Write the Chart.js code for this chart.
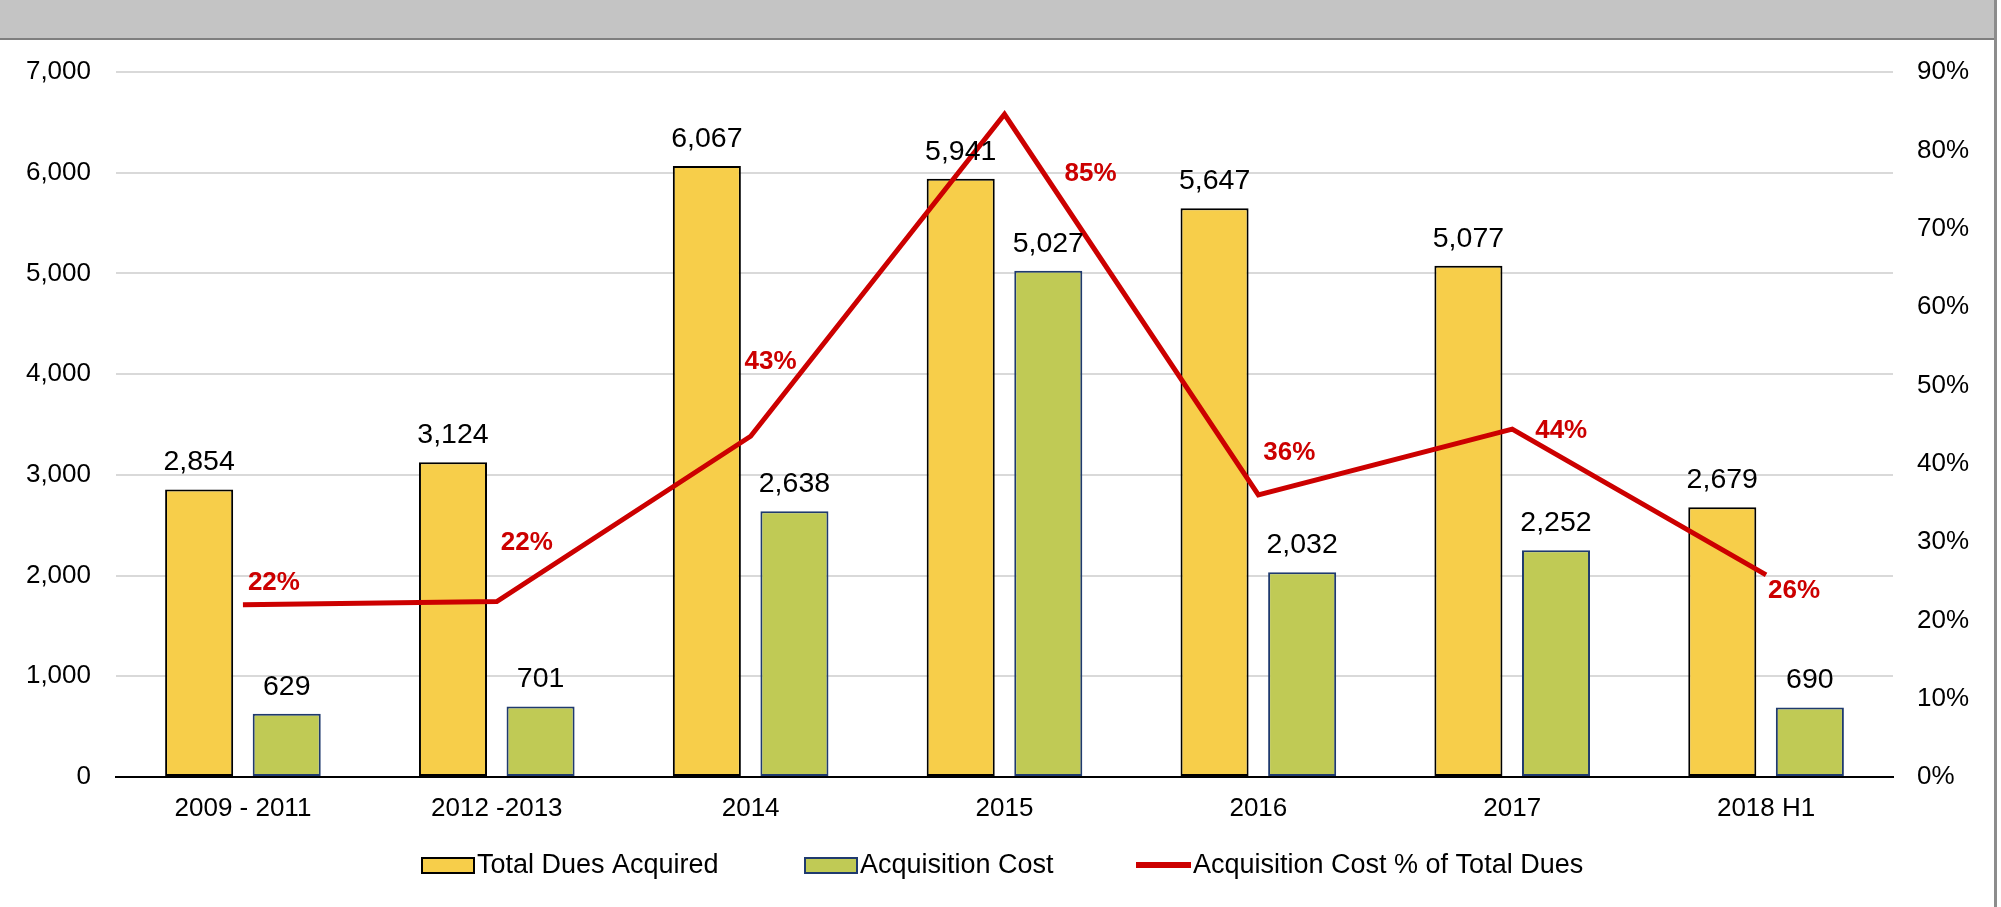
<!DOCTYPE html>
<html>
<head>
<meta charset="utf-8">
<script src="https://cdn.jsdelivr.net/npm/chart.js@4.4.1/dist/chart.umd.min.js"></script>
<style>
  html, body { margin: 0; padding: 0; background: #fff; }
  #page { width: 1994px; height: 907px; border-right: 3px solid #8c8c8c; position: relative; }
  #band { height: 38px; background: #c4c4c4; border-bottom: 2px solid #7f7f7f; }
  canvas { display: block; }
</style>
</head>
<body>
<div id="page">
  <div id="band"></div>
  <canvas id="myChart" width="1994" height="867"></canvas>
</div>
<script>
// values
const categories = ["2009 - 2011", "2012 -2013", "2014", "2015", "2016", "2017", "2018 H1"];
const totalDues = [2854, 3124, 6067, 5941, 5647, 5077, 2679];
const acqCost = [629, 701, 2638, 5027, 2032, 2252, 690];
const costPct = [0.220, 0.224, 0.435, 0.846, 0.360, 0.444, 0.258];
const pctLabels = ["22%", "22%", "43%", "85%", "36%", "44%", "26%"];
const leftTicks = [0, 7000, 1000];
const rightTicks = [0, 0.9, 0.1];

// where excel put the % labels, relative to the point
const pctLabelOffsets = [[31, -22], [30, -59], [20, -74], [86, 60], [31, -42], [49, 2], [28, 16]];

Chart.defaults.font.family = "'Liberation Sans', Arial, sans-serif";
Chart.defaults.font.size = 26;
Chart.defaults.color = "#000";

const fmt = v => v.toLocaleString("en-US");

const labelPlugin = {
  id: "labels",
  afterDatasetsDraw(chart) {
    const ctx = chart.ctx;
    ctx.save();
    ctx.font = "28.5px 'Liberation Sans', Arial, sans-serif";
    ctx.fillStyle = "#000";
    ctx.textAlign = "center";
    ctx.textBaseline = "middle";
    [0, 1].forEach(d => {
      chart.getDatasetMeta(d).data.forEach((el, i) => {
        ctx.fillText(fmt(chart.data.datasets[d].data[i]), el.x, el.y - 27);
      });
    });
    ctx.font = "bold 26px 'Liberation Sans', Arial, sans-serif";
    ctx.fillStyle = "#cc0000";
    chart.getDatasetMeta(2).data.forEach((el, i) => {
      const o = pctLabelOffsets[i];
      ctx.fillText(pctLabels[i], el.x + o[0], el.y + o[1]);
    });
    ctx.restore();
  }
};

const legendPlugin = {
  id: "myLegend",
  afterDraw(chart) {
    const ctx = chart.ctx;
    const y = 825;
    ctx.save();
    ctx.font = "27px 'Liberation Sans', Arial, sans-serif";
    ctx.textBaseline = "middle";
    ctx.textAlign = "left";
    const xs = [422, 805, 1136];
    chart.data.datasets.forEach((ds, i) => {
      const x = xs[i];
      if (ds.type === "line") {
        ctx.strokeStyle = ds.borderColor;
        ctx.lineWidth = 6;
        ctx.beginPath();
        ctx.moveTo(x, y);
        ctx.lineTo(x + 55, y);
        ctx.stroke();
      } else {
        ctx.fillStyle = ds.backgroundColor;
        ctx.fillRect(x, y - 7, 52, 15);
        ctx.strokeStyle = ds.borderColor;
        ctx.lineWidth = 2;
        ctx.strokeRect(x, y - 7, 52, 15);
      }
      ctx.fillStyle = "#000";
      ctx.fillText(ds.label, x + (ds.type === "line" ? 57 : 55), y + 1);
    });
    ctx.restore();
  }
};

// keep the plot box where excel had it
const noPadY = s => { s.paddingTop = 0; s.paddingBottom = 0; };

new Chart(document.getElementById("myChart"), {
  type: "bar",
  data: {
    labels: categories,
    datasets: [
      {
        label: "Total Dues Acquired",
        data: totalDues,
        backgroundColor: "#f7ce4a",
        borderColor: "#000",
        borderWidth: 2,
        borderSkipped: false,
        barPercentage: 0.777,
        categoryPercentage: 0.69,
        yAxisID: "y",
        order: 2
      },
      {
        label: "Acquisition Cost",
        data: acqCost,
        backgroundColor: "#c0ca55",
        borderColor: "#1f3a6e",
        borderWidth: 2,
        borderSkipped: false,
        barPercentage: 0.777,
        categoryPercentage: 0.69,
        yAxisID: "y",
        order: 2
      },
      {
        type: "line",
        label: "Acquisition Cost % of Total Dues",
        data: costPct,
        borderColor: "#cc0000",
        backgroundColor: "#cc0000",
        borderWidth: 5,
        pointRadius: 0,
        tension: 0,
        yAxisID: "y2",
        order: 1
      }
    ]
  },
  options: {
    responsive: false,
    animation: false,
    devicePixelRatio: 1,
    layout: { padding: { top: 32, left: 0, right: 0, bottom: 0 } },
    plugins: {
      legend: { display: false },
      tooltip: { enabled: false }
    },
    scales: {
      x: {
        grid: { display: false, drawTicks: false },
        border: { display: true, color: "#000", width: 2 },
        ticks: { padding: 16, color: "#000" },
        afterFit: s => { s.height = 130; s.paddingLeft = 0; s.paddingRight = 0; }
      },
      y: {
        position: "left",
        min: leftTicks[0],
        max: leftTicks[1],
        ticks: { stepSize: leftTicks[2], padding: 25, callback: v => fmt(v) },
        grid: { color: "#d9d9d9", lineWidth: 2, drawTicks: false },
        border: { display: false },
        afterFit: s => { s.width = 116; noPadY(s); }
      },
      y2: {
        position: "right",
        min: rightTicks[0],
        max: rightTicks[1],
        ticks: { stepSize: rightTicks[2], padding: 24, callback: v => Math.round(v * 100) + "%" },
        grid: { display: false, drawTicks: false },
        border: { display: false },
        afterFit: s => { s.width = 101; noPadY(s); }
      }
    }
  },
  plugins: [labelPlugin, legendPlugin]
});
</script>
</body>
</html>
